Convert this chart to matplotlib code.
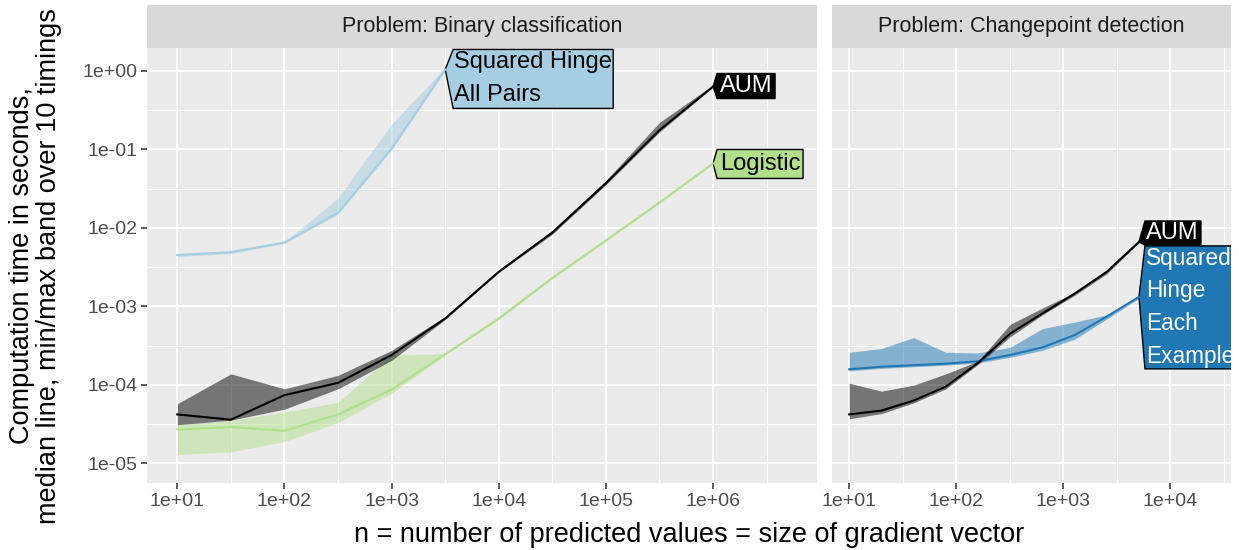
import numpy as np
import matplotlib
matplotlib.use("Agg")
import matplotlib.pyplot as plt
import matplotlib.ticker as mticker
import matplotlib.transforms as mtransforms
from matplotlib.patches import Polygon, Rectangle

plt.rcParams['font.family'] = ['Liberation Sans', 'DejaVu Sans']

#%% datos - panel Binary classification
n_bin = [10, 31.6, 100, 316, 1000, 3162, 10000, 31623, 1e5, 316228, 1e6]

aum_bin_med = [4.2e-5, 3.6e-5, 7.4e-5, 1.06e-4, 2.4e-4, 7.0e-4, 2.75e-3, 8.7e-3, 3.7e-2, 1.75e-1, 0.63]
aum_bin_max = [5.75e-5, 1.38e-4, 8.9e-5, 1.32e-4, 2.75e-4, 7.4e-4, 2.9e-3, 9.3e-3, 4.0e-2, 2.2e-1, 0.66]
aum_bin_min = [3.1e-5, 3.55e-5, 4.9e-5, 8.9e-5, 2.05e-4, 6.8e-4, 2.7e-3, 8.3e-3, 3.55e-2, 1.66e-1, 0.62]

log_bin_med = [2.7e-5, 2.9e-5, 2.6e-5, 4.2e-5, 8.7e-5, 2.45e-4, 7.0e-4, 2.3e-3, 6.9e-3, 2.1e-2, 6.6e-2]
log_bin_max = [3.1e-5, 3.5e-5, 4.5e-5, 6.0e-5, 2.4e-4, 2.5e-4, 7.2e-4, 2.35e-3, 7.1e-3, 2.15e-2, 6.8e-2]
log_bin_min = [1.3e-5, 1.4e-5, 1.9e-5, 3.3e-5, 7.8e-5, 2.4e-4, 6.8e-4, 2.25e-3, 6.8e-3, 2.05e-2, 6.5e-2]

n_pairs = [10, 31.6, 100, 316, 1000, 3162]
pairs_med = [4.5e-3, 4.9e-3, 6.5e-3, 1.55e-2, 1.02e-1, 1.04]
pairs_max = [4.7e-3, 5.0e-3, 6.6e-3, 2.4e-2, 2.1e-1, 1.1]
pairs_min = [4.3e-3, 4.7e-3, 6.3e-3, 1.5e-2, 9.8e-2, 1.0]

#%% datos - panel Changepoint detection
n_cp = [10, 20, 40, 80, 160, 320, 640, 1280, 2560, 5120]

aum_cp_med = [4.2e-5, 4.7e-5, 6.3e-5, 9.5e-5, 1.9e-4, 4.5e-4, 8.1e-4, 1.45e-3, 2.75e-3, 6.6e-3]
aum_cp_max = [1.05e-4, 8.3e-5, 9.9e-5, 1.38e-4, 2.0e-4, 5.9e-4, 9.5e-4, 1.5e-3, 2.9e-3, 6.9e-3]
aum_cp_min = [3.7e-5, 4.3e-5, 5.9e-5, 8.9e-5, 1.82e-4, 4.1e-4, 7.8e-4, 1.38e-3, 2.6e-3, 6.5e-3]

each_med = [1.58e-4, 1.70e-4, 1.78e-4, 1.86e-4, 2.0e-4, 2.4e-4, 3.0e-4, 4.3e-4, 7.4e-4, 1.32e-3]
each_max = [2.6e-4, 2.9e-4, 4.0e-4, 2.6e-4, 2.55e-4, 3.0e-4, 5.2e-4, 6.3e-4, 7.8e-4, 1.35e-3]
each_min = [1.51e-4, 1.62e-4, 1.7e-4, 1.78e-4, 1.9e-4, 2.24e-4, 2.75e-4, 3.8e-4, 6.9e-4, 1.26e-3]

#%% ticks
xticks_bin = [1e1, 1e2, 1e3, 1e4, 1e5, 1e6]
xticks_cp = [1e1, 1e2, 1e3, 1e4]
yticks = [1e-5, 1e-4, 1e-3, 1e-2, 1e-1, 1e0]

c_pairs = "#A6CEE3"
c_log = "#B2DF8A"
c_aum = "black"
c_each = "#1F78B4"

#%% figura
W, H = 1239, 550
fig = plt.figure(figsize=(W / 100, H / 100), dpi=100)


def px_axes(l, t, r, b):
    return fig.add_axes([l / W, 1 - b / H, (r - l) / W, (b - t) / H])


ax1 = px_axes(147, 48, 817, 483)
ax2 = px_axes(832, 48, 1231, 483)


def style(ax, title, xticks, show_y):
    ax.set_facecolor("#EBEBEB")
    for s in ax.spines.values():
        s.set_visible(False)
    ax.set_xscale("log")
    ax.set_yscale("log")
    ax.set_xticks(xticks)
    ax.set_yticks(yticks)
    for axis in (ax.xaxis, ax.yaxis):
        axis.set_minor_locator(mticker.LogLocator(base=10, subs=[10 ** 0.5], numticks=30))
        axis.set_minor_formatter(mticker.NullFormatter())
        axis.set_major_formatter(mticker.FuncFormatter(lambda v, p: f"{v:.0e}"))
    ax.grid(which="major", color="white", lw=1.5)
    ax.grid(which="minor", color="white", lw=0.75)
    ax.set_axisbelow(True)
    ax.tick_params(which="major", length=4, width=1.1, color="#333333",
                   labelcolor="#4D4D4D", labelsize=14, pad=3)
    ax.tick_params(which="minor", length=0)
    if not show_y:
        ax.tick_params(axis="y", which="both", left=False, labelleft=False)
    ax.set_ylim(10 ** -5.25, 10 ** 0.29)
    # strip
    ax.add_patch(Rectangle((0, 1), 1, 43 / 435, transform=ax.transAxes,
                           facecolor="#D9D9D9", edgecolor="none", clip_on=False))
    ax.text(0.5, 1 + 21.5 / 435, title, transform=ax.transAxes, ha="center",
            va="center", fontsize=15.5, color="#1A1A1A")


style(ax1, "Problem: Binary classification", xticks_bin, True)
style(ax2, "Problem: Changepoint detection", xticks_cp, False)
ax1.set_xlim(10 ** 0.717, 10 ** 6.97)
ax2.set_xlim(10 ** 0.839, 10 ** 4.57)


def serie(ax, x, lo, med, hi, color):
    ax.fill_between(x, lo, hi, color=color, alpha=0.5, lw=0)
    ax.plot(x, med, color=color, lw=1.5)


serie(ax1, n_pairs, pairs_min, pairs_med, pairs_max, c_pairs)
serie(ax1, n_bin, log_bin_min, log_bin_med, log_bin_max, c_log)
serie(ax1, n_bin, aum_bin_min, aum_bin_med, aum_bin_max, c_aum)
serie(ax2, n_cp, each_min, each_med, each_max, c_each)
serie(ax2, n_cp, aum_cp_min, aum_cp_med, aum_cp_max, c_aum)


def dl_label(ax, x, y, text, fc, tc, top, bot, right, gap=5, pad=3, ls=1.45, fs=17):
    # etiqueta estilo directlabels: caixa com ponta apontando para o ponto final
    tx, ty = ax.transData.transform((x, y))
    verts = [(0, 0), (gap, top), (right, top), (right, bot), (gap, bot)]
    tr = mtransforms.Affine2D().translate(tx, ty)
    ax.add_patch(Polygon(verts, closed=True, facecolor=fc, edgecolor="black",
                         lw=1, transform=tr))
    ax.annotate(text, xy=(x, y), xytext=(gap + pad, (top + bot) / 2),
                textcoords="offset pixels", ha="left", va="center",
                color=tc, fontsize=fs, linespacing=ls)


dl_label(ax1, n_pairs[-1], pairs_med[-1], "Squared Hinge\nAll Pairs", c_pairs, "black",
         20, -39, 168, gap=8, pad=1, ls=1.65)
dl_label(ax1, n_bin[-1], aum_bin_med[-1], "AUM", c_aum, "white", 13, -12, 62, gap=4)
dl_label(ax1, n_bin[-1], log_bin_med[-1], "Logistic", c_log, "black", 14, -15, 90, gap=4)
dl_label(ax2, n_cp[-1], aum_cp_med[-1], "AUM", c_aum, "white", 21, -3, 62, gap=6, pad=1)
dl_label(ax2, n_cp[-1], each_med[-1], "Squared\nHinge\nEach\nExample", c_each, "white",
         51, -72, 120, gap=6, pad=1, ls=1.55, fs=16.3)

fig.text(689 / W, 1 - 535 / H, "n = number of predicted values = size of gradient vector",
         ha="center", va="center", fontsize=19.5)
fig.text(36 / W, 1 - 266 / H,
         "Computation time in seconds,\nmedian line, min/max band over 10 timings",
         ha="center", va="center", rotation=90, fontsize=19.5, multialignment="center",
         linespacing=1.05)

fig.savefig("out.png", dpi=100)
